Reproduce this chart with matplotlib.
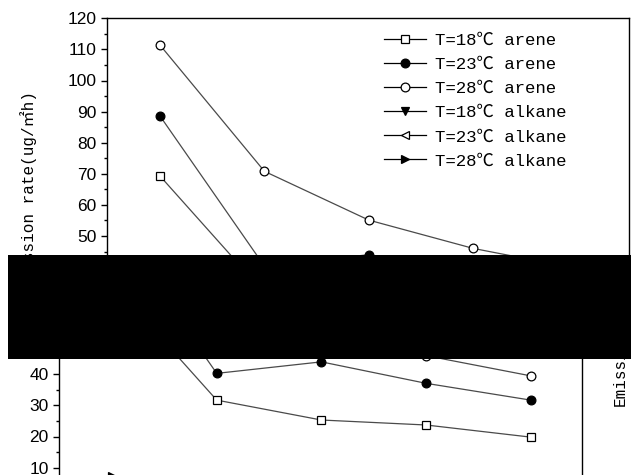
import matplotlib
matplotlib.use("Agg")
import matplotlib.pyplot as plt
from matplotlib.patches import Rectangle
from matplotlib.font_manager import FontProperties
from matplotlib.ticker import MultipleLocator

# ---- data ----
x = [1, 2, 3, 4, 5]
arene_18 = [69.3, 31.7, 25.3, 23.7, 19.8]
arene_23 = [88.6, 40.3, 44.0, 37.1, 31.7]
arene_28 = [111.4, 70.8, 55.1, 46.0, 39.5]
alkane_18 = [4.5, 3.2, 2.6, 2.3, 2.0]
alkane_23 = [5.6, 4.1, 3.4, 3.0, 2.6]
alkane_28 = [7.3, 5.0, 4.2, 3.6, 3.0]
labels = ["T=18℃ arene", "T=23℃ arene", "T=28℃ arene",
          "T=18℃ alkane", "T=23℃ alkane", "T=28℃ alkane"]
ylabel = "Emission rate(ug/㎡h)"

W, H = 631, 475
fig = plt.figure(figsize=(W / 100, H / 100), dpi=100)

serif = ["Liberation Mono", "Noto Sans CJK SC"]
tickfont = "Liberation Sans"

series = [
    (arene_18, dict(marker="s", mfc="white", mec="black")),
    (arene_23, dict(marker="o", mfc="black", mec="black")),
    (arene_28, dict(marker="o", mfc="white", mec="black")),
    (alkane_18, dict(marker="v", mfc="black", mec="black")),
    (alkane_23, dict(marker="<", mfc="white", mec="black")),
    (alkane_28, dict(marker=">", mfc="black", mec="black")),
]


def px_axes(l, r, t, b):
    return fig.add_axes([l / W, 1 - b / H, (r - l) / W, (b - t) / H])


def style(ax, ylim):
    ax.set_xlim(0.493, 5.49)
    ax.set_ylim(*ylim)
    ax.yaxis.set_major_locator(MultipleLocator(10))
    ax.yaxis.set_minor_locator(MultipleLocator(5))
    ax.tick_params(axis="y", which="major", direction="out", length=4.5,
                   width=1.0, labelsize=12.5, pad=3)
    ax.tick_params(axis="y", which="minor", direction="out", length=2.3,
                   width=1.0)
    ax.tick_params(axis="x", which="both", bottom=False, labelbottom=False)
    for lab in ax.get_yticklabels():
        lab.set_fontfamily(tickfont)
    for s in ax.spines.values():
        s.set_linewidth(1.0)
    ax.spines["bottom"].set_visible(False)
    handles = []
    for ys, kw in series:
        h, = ax.plot(x, ys, color="#4a4a4a", lw=0.9, ms=6.3, mew=0.9,
                     clip_on=True, **kw)
        handles.append(h)
    return handles


# top section
ax1 = px_axes(107, 629, 18.3, 255)
hs = style(ax1, (120 - (255 - 18.3) / 3.11, 120))

leg = ax1.legend(hs, labels, loc="upper left",
                 bbox_to_anchor=(384 / W, 1 - 32.5 / H),
                 bbox_transform=fig.transFigure, frameon=False,
                 prop=FontProperties(family=serif, size=12.5),
                 handlelength=2.4, handletextpad=0.55, labelspacing=0.52,
                 borderpad=0, borderaxespad=0)
for h in leg.legend_handles:
    h.set_color("black")

fig.text(29 / W, 1 - 290 / H, ylabel, rotation=90, ha="center", va="bottom",
         family=serif, fontsize=11.5)

# bottom section (shifted copy)
ax2 = px_axes(59, 582, 359, 475)
style(ax2, (40 - (475 - 374.3) / 3.11, 40 + (374.3 - 359) / 3.11))
ax2.spines["top"].set_visible(False)

fig.text(620 / W, 1 - 406 / H, "Emission", rotation=90, ha="center",
         va="bottom", family=serif, fontsize=11.5)

# black band
fig.add_artist(Rectangle((8 / W, 1 - 359 / H), (W - 8) / W, 104 / H,
                         transform=fig.transFigure, facecolor="black",
                         edgecolor="none", zorder=20))

fig.savefig("out.png", dpi=100)
